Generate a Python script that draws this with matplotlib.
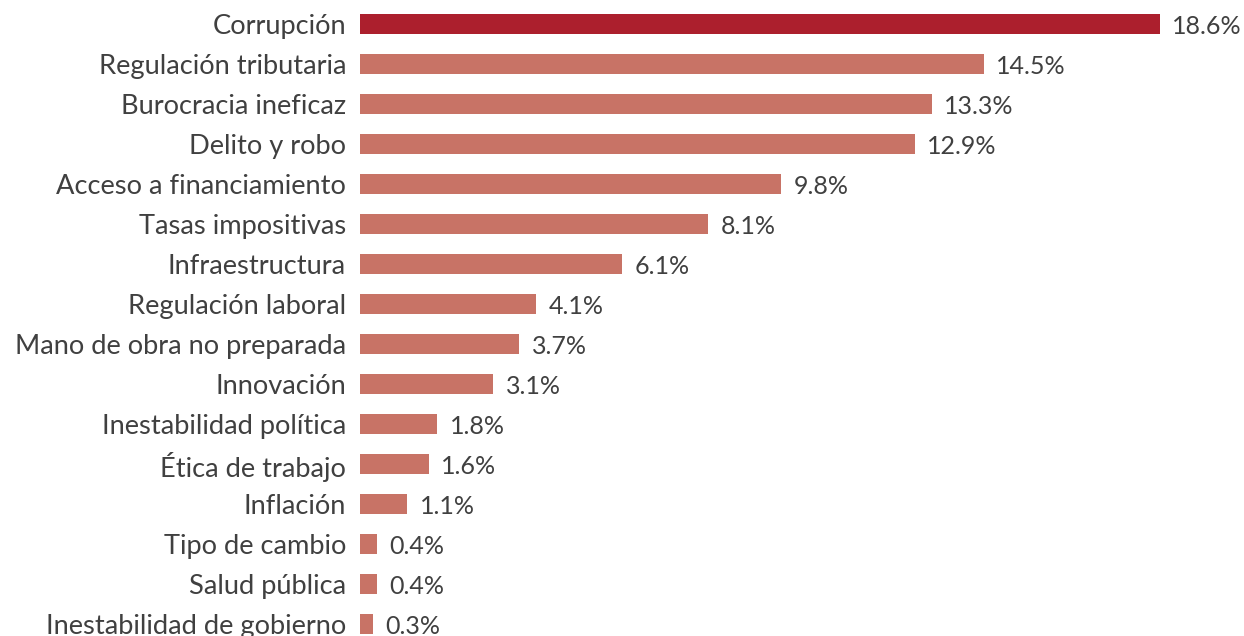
import matplotlib.pyplot as plt

# datos
categorias = ['Corrupción', 'Regulación tributaria', 'Burocracia ineficaz', 'Delito y robo',
              'Acceso a financiamiento', 'Tasas impositivas', 'Infraestructura',
              'Regulación laboral', 'Mano de obra no preparada', 'Innovación',
              'Inestabilidad política', 'Ética de trabajo', 'Inflación', 'Tipo de cambio',
              'Salud pública', 'Inestabilidad de gobierno']
valores = [18.6, 14.5, 13.3, 12.9, 9.8, 8.1, 6.1, 4.1, 3.7, 3.1, 1.8, 1.6, 1.1, 0.4, 0.4, 0.3]

color_top = '#AC1F2D'
color_resto = '#C87366'
color_texto = '#404040'

plt.rcParams['font.family'] = ['Lato', 'DejaVu Sans']

fig = plt.figure(figsize=(12.44, 6.36), dpi=100)
ax = fig.add_axes([360 / 1244, 0, 884 / 1244, 1])

y = list(range(len(categorias)))
colores = [color_top] + [color_resto] * (len(valores) - 1)
ax.barh(y, valores, height=0.52, color=colores)

ax.set_ylim(15.3, -0.6)
ax.set_xlim(0, 884 / 43)

for i, v in enumerate(valores):
    ax.annotate(f'{v:.1f}%', (v, i), xytext=(9, -2), textcoords='offset points',
                ha='left', va='center', fontsize=18, color=color_texto)

ax.set_yticks(y)
ax.set_yticklabels(categorias, fontsize=19.6, color=color_texto)
ax.tick_params(axis='y', length=0, pad=10)
ax.set_xticks([])
for s in ax.spines.values():
    s.set_visible(False)

fig.savefig('out.png', dpi=100)
